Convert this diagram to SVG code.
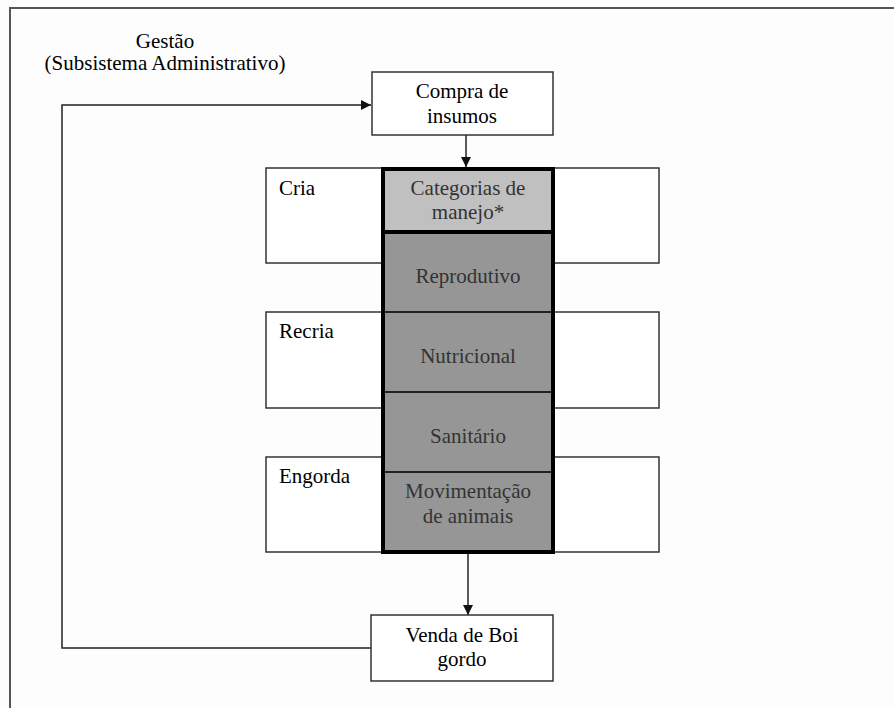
<svg xmlns="http://www.w3.org/2000/svg" width="894" height="708" viewBox="0 0 894 708">
<style>
  text{font-family:'Liberation Serif','Times New Roman',Times,'DejaVu Serif',serif;font-size:21px;fill:#000}
  .c{text-anchor:middle}
  .in{fill:#333}
  .box{fill:#fff;stroke:#333;stroke-width:1.5}
  .sep{stroke:#222;stroke-width:2}
  .con{fill:none;stroke:#222;stroke-width:1.5}
</style>
<defs>
  <marker id="ah" viewBox="0 0 10 10" refX="10" refY="5" markerWidth="10" markerHeight="10" markerUnits="userSpaceOnUse" orient="auto">
    <path d="M0,0 L10,5 L0,10 Z" fill="#111"/>
  </marker>
</defs>
<rect width="894" height="708" fill="#fdfdfd"/>
<path d="M10,708 V8 H894" fill="none" stroke="#555" stroke-width="2"/>
<g id="gestao" font-family="Liberation Serif, serif">
  <text class="c" x="165" y="48">Gestão</text>
  <text class="c" x="165" y="70">(Subsistema Administrativo)</text>
</g>
<g id="connectors">
  <path class="con" d="M371,648 H62 V105 H371" marker-end="url(#ah)"/>
  <path class="con" d="M466,135 V167" marker-end="url(#ah)"/>
  <path class="con" d="M468,554 V615" marker-end="url(#ah)"/>
</g>
<g id="compra">
  <rect class="box" x="372" y="72" width="181" height="63"/>
  <text class="c" x="462" y="98">Compra de</text>
  <text class="c" x="462" y="123">insumos</text>
</g>
<g id="cria">
  <rect class="box" x="266" y="168" width="393" height="95"/>
  <text x="279" y="195">Cria</text>
</g>
<g id="recria">
  <rect class="box" x="266" y="312" width="393" height="96"/>
  <text x="279" y="338">Recria</text>
</g>
<g id="engorda">
  <rect class="box" x="266" y="457" width="393" height="95"/>
  <text x="279" y="483">Engorda</text>
</g>
<g id="coluna">
  <rect x="383" y="169" width="170" height="383" fill="#969696"/>
  <rect x="383" y="169" width="170" height="63" fill="#c0c0c0" stroke="#000" stroke-width="4"/>
  <line class="sep" x1="383" y1="312" x2="553" y2="312"/>
  <line class="sep" x1="383" y1="392" x2="553" y2="392"/>
  <line class="sep" x1="383" y1="472" x2="553" y2="472"/>
  <rect x="383" y="169" width="170" height="383" fill="none" stroke="#000" stroke-width="4"/>
</g>
<g id="categorias">
  <text class="c in" x="468" y="195">Categorias de</text>
  <text class="c in" x="468" y="219">manejo*</text>
</g>
<g id="reprodutivo"><text class="c in" x="468" y="283">Reprodutivo</text></g>
<g id="nutricional"><text class="c in" x="468" y="363">Nutricional</text></g>
<g id="sanitario"><text class="c in" x="468" y="443">Sanitário</text></g>
<g id="movimentacao">
  <text class="c in" x="468" y="498">Movimentação</text>
  <text class="c in" x="468" y="523">de animais</text>
</g>
<g id="venda">
  <rect class="box" x="371" y="615" width="182" height="66"/>
  <text class="c" x="462" y="642">Venda de Boi</text>
  <text class="c" x="462" y="666">gordo</text>
</g>
</svg>
